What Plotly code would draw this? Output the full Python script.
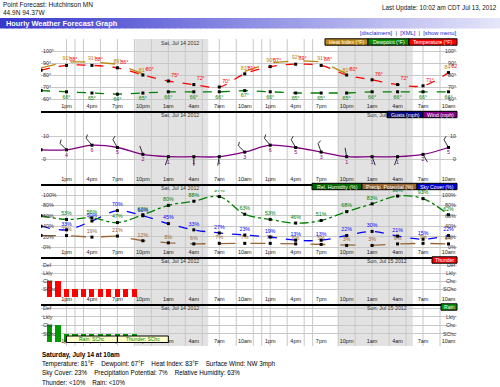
import math
import plotly.graph_objects as go

# ---------------- data ----------------
hours = [0, 3, 6, 9, 12, 15, 18, 21, 24, 27, 30, 33, 36, 39, 42, 45, 48]
tick_hours = [3, 6, 9, 12, 15, 18, 21, 24, 27, 30, 33, 36, 39, 42, 45, 48]
tick_labels = ["1pm", "4pm", "7pm", "10pm", "1am", "4am", "7am", "10am",
               "1pm", "4pm", "7pm", "10pm", "1am", "4am", "7am", "10am"]
temperature = [84, 88, 88, 86, 80, 75, 72, 70, 81, 87, 89, 88, 80, 76, 72, 71, 82]
dewpoint = [67, 66, 65, 64, 65, 66, 66, 66, 67, 66, 65, 65, 65, 66, 66, 66, 66]
heat_index = [86, 91, 91, 89, 81, None, None, None, 83, 90, 92, 91, 81, None, None, None, 84]
wind_speed = [4, 4, 6, 5, 2, 1, 1, 1, 3, 6, 5, 3, 1, 1, 1, 2, 5]
wind_dir = [300, 315, 320, 330, 340, 200, 180, 190, 315, 320, 330, 340, 350, 160, 200, 150, 330]
rel_humidity = [60, 53, 56, 47, 62, 80, 88, 97, 63, 53, 46, 51, 68, 83, 98, 93, 62]
sky_cover = [40, 33, 50, 70, 60, 45, 33, 27, 23, 19, 13, 13, 22, 30, 21, 15, 22]
precip_potential = [22, 22, 19, 21, 12, 8, 6, 7, 7, 7, 6, 5, 3, 3, 6, 7, 6]
bar_hours = [1, 2, 3, 4, 5, 6, 7, 8, 9, 10, 11]
thunder_level = [2, 2, 1, 1, 1, 1, 1, 1, 1, 1, 1]
rain_level = [2, 2, 1, 1, 1, 1, 1, 1, 1, 1, 1]
chance_labels = ["SChc", "Chc", "Lkly", "Def"]
chance_values = [1, 2, 3, 4]
night_start = [11.1, 35.0]
night_end = [19.7, 43.8]
grid_hours = [3, 4, 5, 7, 9, 11, 13, 15, 17, 19, 21, 23, 25, 26, 27, 29, 31, 32,
              35, 37, 39, 41, 43, 45, 47]
date_labels = ["Sat, Jul 14 2012", "Sun, Jul 15 2012"]
date_hours = [16.4, 40.7]
temp_ticks = [60, 70, 80, 90, 100]
wind_ticks = [0, 10]
pct_ticks = [0, 20, 40, 60, 80, 100]
tooltip_hours = [3, 9, 15]
tooltip_texts = ["Rain: SChc", "Thunder: SChc"]

# ---------------- layout helpers ----------------
W, H = 500, 387
FONT = "Liberation Sans, Arial, sans-serif"
XD = [41 / W, 457 / W]
XR = [0, 49]


def yp(px):
    return 1 - px / H


def xp(px):
    return px / W


def rng(top, bot, pa, va, pb, vb):
    k = (vb - va) / (pb - pa)
    return [va + (bot - pa) * k, va + (top - pa) * k]


panels = [
    dict(top=39, bot=111, r=rng(39, 111, 111, 50, 51, 100), ticks=temp_ticks,
         labels=[f"{t}°" for t in temp_ticks], line=True, date_y=[43, 115]),
    dict(top=118, bot=184, r=rng(118, 184, 159, 0, 136, 10), ticks=wind_ticks,
         labels=[str(t) for t in wind_ticks], line=True, date_y=[188]),
    dict(top=190, bot=257, r=rng(190, 257, 247, 0, 195, 100), ticks=pct_ticks,
         labels=[f"{t}%" for t in pct_ticks], line=True, date_y=[261]),
    dict(top=262, bot=304, r=rng(262, 304, 297, 0, 265, 4), ticks=[0] + chance_values,
         labels=[""] + chance_labels, line=True, date_y=[308]),
    dict(top=306, bot=347, r=rng(306, 347, 342, 0, 308, 4), ticks=[0] + chance_values,
         labels=[""] + chance_labels, line=False, date_y=[]),
]

fig = go.Figure()
annotations = []
shapes = []


def ax(i):
    return ("x" if i == 0 else f"x{i+1}"), ("y" if i == 0 else f"y{i+1}")


lay = {}
for i, p in enumerate(panels):
    xa, ya = ax(i)
    xk = "xaxis" if i == 0 else f"xaxis{i+1}"
    yk = "yaxis" if i == 0 else f"yaxis{i+1}"
    lay[xk] = dict(domain=XD, range=XR, anchor=ya, showgrid=False, zeroline=False,
                   tickmode="array", tickvals=tick_hours, ticktext=tick_labels,
                   ticklabelposition="inside", ticks="", tickfont=dict(size=5.5, color="#222"),
                   showline=p["line"], linecolor="black", linewidth=1.5, fixedrange=True)
    lay[yk] = dict(domain=[yp(p["bot"]), yp(p["top"])], range=p["r"], anchor=xa,
                   tickmode="array", tickvals=p["ticks"], showticklabels=False,
                   showgrid=True, gridcolor="#c8c8c8", gridwidth=1, zeroline=False,
                   showline=False, fixedrange=True)
    for v, lab in zip(p["ticks"], p["labels"]):
        if not lab:
            continue
        for xx, anc in ((41, "left"), (458, "right")):
            annotations.append(dict(x=xp(xx), y=v, xref="paper", yref=ya, text=lab,
                                    showarrow=False, xanchor=anc, yanchor="middle",
                                    font=dict(size=5.3, color="#333")))
    for dy in p["date_y"]:
        for dh, dl in zip(date_hours, date_labels):
            annotations.append(dict(x=dh, y=yp(dy), xref="x", yref="paper", text=dl,
                                    showarrow=False, xanchor="center", yanchor="middle",
                                    font=dict(size=5.3, color="#333")))

# night shading + vertical grid lines across the whole graph
for s, e in zip(night_start, night_end):
    shapes.append(dict(type="rect", xref="x", yref="paper", x0=s, x1=e,
                       y0=yp(346), y1=yp(39), fillcolor="#e2e2e2", line_width=0, layer="below"))
for g in grid_hours:
    shapes.append(dict(type="line", xref="x", yref="paper", x0=g, x1=g,
                       y0=yp(346), y1=yp(39), line=dict(color="#c8c8c8", width=1), layer="below"))


def lab(vals, suffix):
    return [("" if (h == 0 or v is None) else f"{v}{suffix}") for h, v in zip(hours, vals)]


# ---------- temperature panel ----------
fig.add_trace(go.Scatter(x=hours, y=dewpoint, mode="lines+markers+text", xaxis="x", yaxis="y",
                         line=dict(color="#008000", width=1.3, dash="dash"),
                         marker=dict(symbol="square", size=3, color="black"),
                         text=lab(dewpoint, "°"), textposition="bottom center",
                         textfont=dict(size=5.3, color="#008000")))
fig.add_trace(go.Scatter(x=hours, y=heat_index, mode="lines+text", xaxis="x", yaxis="y",
                         line=dict(color="#b8860b", width=1.3, dash="longdash"),
                         text=lab(heat_index, "°"), textposition="top center",
                         textfont=dict(size=5.3, color="#b8860b")))
fig.add_trace(go.Scatter(x=hours, y=temperature, mode="lines+markers+text", xaxis="x", yaxis="y",
                         line=dict(color="#ff0000", width=1.3, dash="dash", shape="spline"),
                         marker=dict(symbol="square", size=3, color="black"),
                         text=lab(temperature, "°"), textposition="top right",
                         textfont=dict(size=5.3, color="#ff0000")))

# ---------- wind panel ----------
PXH = (457 - 41) / 49.0
PXW = 2.3
bx, by = [], []
for h, sp, d in zip(hours, wind_speed, wind_dir):
    L = 9
    r = math.radians(d)
    tx = h + L * math.sin(r) / PXH
    ty = sp + L * math.cos(r) / PXW
    bx += [h, tx, None]
    by += [sp, ty, None]
    if sp >= 3:
        rr = math.radians(d + 60)
        fx = tx + 4 * math.sin(rr) / PXH
        fy = ty + 4 * math.cos(rr) / PXW
        bx += [tx, fx, None]
        by += [ty, fy, None]
fig.add_trace(go.Scatter(x=bx, y=by, mode="lines", xaxis="x2", yaxis="y2",
                         line=dict(color="black", width=0.8)))
fig.add_trace(go.Scatter(x=hours, y=wind_speed, mode="lines+markers+text", xaxis="x2", yaxis="y2",
                         line=dict(color="#800080", width=1.3, shape="spline"),
                         marker=dict(symbol="square", size=3, color="black"),
                         text=lab(wind_speed, ""), textposition="bottom center",
                         textfont=dict(size=5.3, color="#800080")))

# ---------- humidity / sky / precip panel ----------
fig.add_trace(go.Scatter(x=hours, y=precip_potential, mode="lines+markers+text", xaxis="x3", yaxis="y3",
                         line=dict(color="#996633", width=1.3, dash="longdash"),
                         marker=dict(symbol="square", size=3, color="black"),
                         text=lab(precip_potential, "%"), textposition="top center",
                         textfont=dict(size=5.3, color="#996633")))
fig.add_trace(go.Scatter(x=hours, y=sky_cover, mode="lines+markers+text", xaxis="x3", yaxis="y3",
                         line=dict(color="#0000ff", width=1.3, dash="dash", shape="spline"),
                         marker=dict(symbol="square", size=3, color="black"),
                         text=lab(sky_cover, "%"), textposition="top center",
                         textfont=dict(size=5.3, color="#0000ff")))
fig.add_trace(go.Scatter(x=hours, y=rel_humidity, mode="lines+markers+text", xaxis="x3", yaxis="y3",
                         line=dict(color="#008000", width=1.3, dash="dashdot", shape="spline"),
                         marker=dict(symbol="square", size=3, color="black"),
                         text=lab(rel_humidity, "%"), textposition="top center",
                         textfont=dict(size=5.3, color="#008000")))

# ---------- thunder / rain bars ----------
fig.add_trace(go.Bar(x=bar_hours, y=thunder_level, xaxis="x4", yaxis="y4",
                     marker=dict(color="#ff0000", line_width=0), width=0.6))
fig.add_trace(go.Bar(x=bar_hours, y=rain_level, xaxis="x5", yaxis="y5",
                     marker=dict(color="#009900", line_width=0), width=0.6))

# tooltip-like yellow box in rain panel
for k, txt in enumerate(tooltip_texts):
    shapes.append(dict(type="rect", xref="x5", yref="paper", x0=tooltip_hours[k], x1=tooltip_hours[k + 1],
                       y0=yp(342.5), y1=yp(336), fillcolor="#ffffcc", line=dict(color="black", width=1)))
    annotations.append(dict(x=(tooltip_hours[k] + tooltip_hours[k + 1]) / 2, y=yp(339.3), xref="x5",
                            yref="paper", text=txt, showarrow=False, xanchor="center", yanchor="middle",
                            font=dict(size=5, color="#008000")))

# ---------- legends ----------
legend_boxes = [
    (42, [("Heat Index (°F)", "#c08a1a", 325, 368), ("Dewpoint (°F)", "#009900", 368, 409),
          ("Temperature (°F)", "#ff0000", 409, 457)]),
    (114.5, [("Gusts (mph)", "#000080", 387, 423), ("Wind (mph)", "#800080", 423, 457)]),
    (186.5, [("Rel. Humidity (%)", "#006600", 312, 362), ("Precip. Potential (%)", "#996633", 362, 417),
             ("Sky Cover (%)", "#0000cc", 417, 457)]),
    (260, [("Thunder", "#ff0000", 432, 457)]),
    (307, [("Rain", "#009900", 441, 457)]),
]
for yy, items in legend_boxes:
    for txt, col, x0, x1 in items:
        shapes.append(dict(type="rect", xref="paper", yref="paper", x0=xp(x0), x1=xp(x1),
                           y0=yp(yy + 3.2), y1=yp(yy - 3.2), fillcolor=col,
                           line=dict(color="black", width=1)))
        annotations.append(dict(x=xp((x0 + x1) / 2), y=yp(yy), xref="paper", yref="paper",
                                text=txt, showarrow=False, xanchor="center", yanchor="middle",
                                font=dict(size=5.2, color="white")))

# ---------- header ----------
N = 80
c0, c1 = (56, 56, 205), (228, 228, 250)
for k in range(N):
    t = k / (N - 1)
    col = "rgb(%d,%d,%d)" % tuple(round(a + (b - a) * t) for a, b in zip(c0, c1))
    shapes.append(dict(type="rect", xref="paper", yref="paper", x0=k / N, x1=(k + 1) / N + 0.002,
                       y0=yp(28.5), y1=yp(18), fillcolor=col, line_width=0))
text_block = [
    dict(x=xp(4), y=yp(23.3), text="<b>Hourly Weather Forecast Graph</b>",
         font=dict(size=7.4, color="white")),
    dict(x=xp(1), y=yp(5), text="Point Forecast: Hutchinson MN", font=dict(size=6.5, color="#111")),
    dict(x=xp(1), y=yp(12.5), text="44.9N 94.37W", font=dict(size=6.5, color="#111")),
    dict(x=xp(499), y=yp(7.5), text="Last Update: 10:02 am CDT Jul 13, 2012", xanchor="right",
         font=dict(size=6.3, color="#111")),
    dict(x=xp(459), y=yp(33), text="[disclaimers]  |  [XML]  |  [show menu]", xanchor="right",
         font=dict(size=5.8, color="#1a1acc")),
    dict(x=xp(40), y=yp(355), text="<b>Saturday, July 14 at 10am</b>", font=dict(size=6.4, color="#000")),
    dict(x=xp(40), y=yp(364), text="Temperature: 81°F    Dewpoint: 67°F    Heat Index: 83°F    Surface Wind: NW 3mph",
         font=dict(size=6.3, color="#000")),
    dict(x=xp(40), y=yp(373), text="Sky Cover: 23%    Precipitation Potential: 7%    Relative Humidity: 63%",
         font=dict(size=6.3, color="#000")),
    dict(x=xp(40), y=yp(382), text="Thunder: <10%    Rain: <10%", font=dict(size=6.3, color="#000")),
]
for a in text_block:
    a.setdefault("xref", "paper")
    a.setdefault("yref", "paper")
    a.setdefault("xanchor", "left")
    a.setdefault("yanchor", "middle")
    a["showarrow"] = False
annotations += text_block

fig.update_layout(
    width=W, height=H, margin=dict(l=0, r=0, t=0, b=0),
    paper_bgcolor="white", plot_bgcolor="rgba(0,0,0,0)",
    showlegend=False, bargap=0,
    font=dict(family=FONT, size=6, color="#222"),
    annotations=annotations, shapes=shapes, **lay,
)
fig.write_html("out.html", config={"displayModeBar": False},
               post_script="document.body.style.margin='0px';document.body.style.padding='0px';")
